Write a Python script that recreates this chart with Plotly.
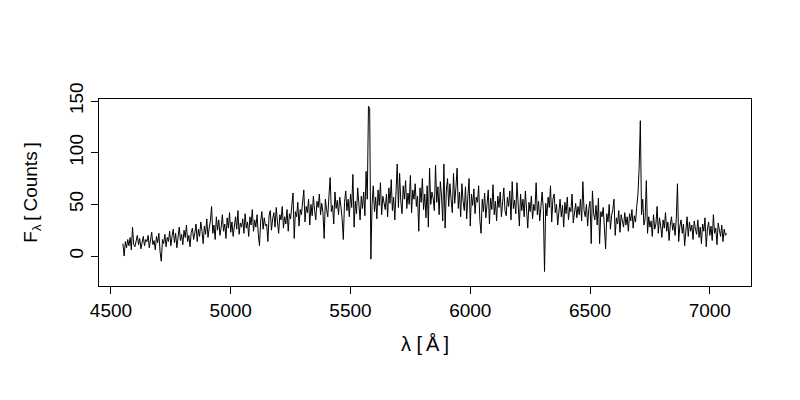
import numpy as np
import plotly.graph_objects as go

# wavelength grid (Angstrom): start, end, step
lam_start = 4550
lam_step = 5

flux_4550 = [12, 0, 14, 8, 16, 10, 18, 6, 28, 11, 9, 15, 20, 11, 17, 7, 14, 19, 10, 16]
flux_4650 = [14, 20, 8, 17, 23, 11, 15, 6, 19, 13, 22, 4, -5, 16, 12, 21, 9, 18, 14, 24]
flux_4750 = [10, 19, 26, 13, 22, 8, 17, 28, 15, 21, 11, 25, 18, 30, 14, 20, 9, 23, 27, 16]
flux_4850 = [22, 31, 14, 26, 19, 33, 24, 12, 29, 21, 36, 18, 27, 34, 48, 22, 30, 16, 38, 25]
flux_4950 = [35, 20, 28, 40, 24, 31, 17, 37, 27, 42, 23, 33, 19, 29, 38, 26, 44, 21, 32, 28]
flux_5050 = [36, 22, 41, 27, 33, 19, 38, 30, 45, 24, 35, 28, 40, 21, 10, 34, 43, 26, 37, 29]
flux_5150 = [31, 14, 39, 44, 25, 36, 42, 28, 47, 33, 22, 40, 35, 48, 27, 38, 31, 45, 24, 41]
flux_5250 = [36, 49, 61, 17, 43, 38, 52, 29, 45, 40, 56, 64, 33, 48, 42, 55, 30, 50, 39, 58]
flux_5350 = [44, 35, 53, 47, 60, 40, 51, 42, 17, 55, 45, 38, 58, 76, 43, 49, 31, 62, 46, 54]
flux_5450 = [40, 57, 48, 36, 16, 52, 63, 44, 55, 38, 60, 47, 79, 28, 53, 41, 66, 50, 35, 58]
flux_5550 = [46, 62, 39, 82, 55, 145, 143, -3, 50, 68, 43, 57, 36, 64, 49, 71, 40, 58, 52, 45]
flux_5650 = [60, 38, 66, 51, 74, 44, 57, 35, 62, 89, 47, 80, 53, 41, 68, 55, 73, 46, 61, 50]
flux_5750 = [78, 42, 64, 55, 70, 48, 58, 24, 66, 52, 75, 45, 60, 37, 68, 28, 85, 50, 62, 56]
flux_5850 = [44, 88, 52, 67, 40, 72, 58, 34, 89, 27, 63, 75, 48, 70, 55, 42, 80, 51, 66, 85]
flux_5950 = [46, 62, 38, 70, 53, 44, 67, 36, 58, 75, 29, 60, 49, 65, 41, 57, 52, 68, 35, 22]
flux_6050 = [55, 43, 61, 37, 50, 64, 31, 56, 45, 69, 40, 53, 34, 58, 47, 62, 38, 51, 66, 44]
flux_6150 = [39, 57, 48, 63, 35, 72, 46, 54, 41, 71, 50, 29, 60, 44, 55, 38, 63, 49, 27, 52]
flux_6250 = [43, 58, 36, 50, 44, 71, 40, 53, 34, 48, 62, 45, -15, 51, 39, 57, 47, 68, 33, 55]
flux_6350 = [60, 42, 50, 30, 46, 55, 38, 49, 28, 52, 41, 57, 35, 47, 43, 60, 32, 45, 51, 37]
flux_6450 = [48, 40, 55, 34, 72, 44, 38, 50, 29, 46, 53, 12, 63, 41, 35, 49, 30, 56, 12, 43]
flux_6550 = [38, 47, 29, 7, 41, 33, 50, 26, 39, 45, 55, 20, 37, 31, 44, 23, 40, 35, 28, 42]
flux_6650 = [30, 38, 24, 41, 34, 45, 27, 39, 33, 48, 60, 85, 131, 40, 55, 30, 36, 73, 22, 38]
flux_6750 = [28, 34, 19, 40, 26, 31, 48, 22, 37, 29, 18, 35, 27, 42, 24, 33, 15, 30, 38, 25]
flux_6850 = [32, 20, 36, 70, 14, 29, 35, 22, 31, 10, 27, 38, 19, 33, 24, 30, 16, 34, 26, 21]
flux_6950 = [35, 18, 28, 12, 31, 24, 37, 9, 26, 33, 20, 29, 15, 40, 22, 27, 11, 32, 25, 19]
flux_7050 = [30, 14, 26, 20, 22]

flux = (flux_4550 + flux_4650 + flux_4750 + flux_4850 + flux_4950 + flux_5050
        + flux_5150 + flux_5250 + flux_5350 + flux_5450 + flux_5550 + flux_5650
        + flux_5750 + flux_5850 + flux_5950 + flux_6050 + flux_6150 + flux_6250
        + flux_6350 + flux_6450 + flux_6550 + flux_6650 + flux_6750 + flux_6850
        + flux_6950 + flux_7050)
lam = lam_start + lam_step * np.arange(len(flux))

x_ticks = [4500, 5000, 5500, 6000, 6500, 7000]
y_ticks = [0, 50, 100, 150]

fig = go.Figure()
fig.add_trace(go.Scatter(x=lam, y=flux, mode="lines",
                         line=dict(color="black", width=1),
                         showlegend=False, hoverinfo="skip"))

font = dict(family="Liberation Sans, Arial, sans-serif", size=19, color="black")
xtfont = dict(family="Liberation Sans, Arial, sans-serif", size=20, color="black")
ytfont = dict(family="Liberation Sans, Arial, sans-serif", size=19, color="black")
fig.update_layout(
    width=800, height=400,
    margin=dict(l=91, r=57, t=91, b=122),
    paper_bgcolor="white", plot_bgcolor="white",
    font=font,
    xaxis=dict(range=[4450, 7172], tickvals=x_ticks, ticks="outside", ticklen=7,
               tickwidth=1, tickcolor="black", showgrid=False, zeroline=False,
               showline=True, linecolor="black", linewidth=1, mirror=True,
               title=dict(text="λ [\u2009Å\u2009]", standoff=17, font=xtfont), tickfont=font),
    yaxis=dict(range=[-29, 152], tickvals=y_ticks, ticks="outside", ticklen=7,
               tickwidth=1, tickcolor="black", showgrid=False, zeroline=False,
               showline=True, linecolor="black", linewidth=1, mirror=True,
               tickangle=-90,
               title=dict(text="F<sub>λ</sub>\u2009[\u2009Counts\u2009]", standoff=23, font=ytfont),
               tickfont=font),
)
fig.write_html("out.html")
